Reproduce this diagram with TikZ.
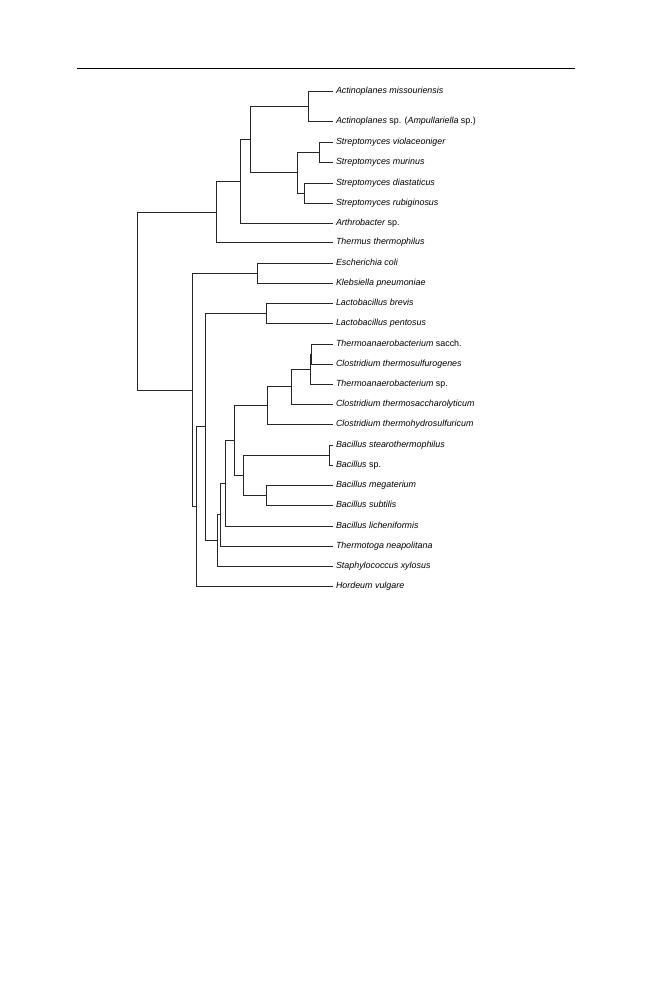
\documentclass[tikz,border=0pt]{standalone}
\usepackage{fontspec}
\setmainfont{Liberation Sans}
\usepackage{tikz}
\tikzset{taxon/.style={anchor=west,inner sep=0pt,outer xsep=3.5pt,text height=6.2pt,text depth=1.8pt,font=\fontsize{8.9}{10}\selectfont\itshape},branch/.style={line width=0.85pt,draw=black!85},rule/.style={line width=0.9pt}}
\begin{document}
\begin{tikzpicture}[x=1pt,y=-1pt]
\useasboundingbox (0,0) rectangle (659,999);
\coordinate (rulel) at (76.7,68.3);
\coordinate (ruler) at (575,68.3);
\draw[rule] (rulel)--(ruler);
\node[taxon] (amis) at (332.5,91.5) {Actinoplanes missouriensis};
\node[taxon] (asp) at (332.5,121) {Actinoplanes \textup{sp. (}Ampullariella \textup{sp.)}};
\node[taxon] (sviol) at (332.5,142) {Streptomyces violaceoniger};
\node[taxon] (smur) at (332.5,162.5) {Streptomyces murinus};
\node[taxon] (sdia) at (332.5,183) {Streptomyces diastaticus};
\node[taxon] (srub) at (332.5,203.5) {Streptomyces rubiginosus};
\node[taxon] (arth) at (332.5,223.5) {Arthrobacter \textup{sp.}};
\node[taxon] (tthe) at (332.5,242.5) {Thermus thermophilus};
\node[taxon] (ecol) at (332.5,263.5) {Escherichia coli};
\node[taxon] (kpne) at (332.5,283.5) {Klebsiella pneumoniae};
\node[taxon] (lbre) at (332.5,303.5) {Lactobacillus brevis};
\node[taxon] (lpen) at (332.5,323.5) {Lactobacillus pentosus};
\node[taxon] (tsac) at (332.5,344) {Thermoanaerobacterium \textup{sacch.}};
\node[taxon] (cths) at (332.5,364) {Clostridium thermosulfurogenes};
\node[taxon] (tsp) at (332.5,384) {Thermoanaerobacterium \textup{sp.}};
\node[taxon] (ctsa) at (332.5,404) {Clostridium thermosaccharolyticum};
\node[taxon] (cthy) at (332.5,424.5) {Clostridium thermohydrosulfuricum};
\node[taxon] (bste) at (332.5,445) {Bacillus stearothermophilus};
\node[taxon] (bsp) at (332.5,465) {Bacillus \textup{sp.}};
\node[taxon] (bmeg) at (332.5,485) {Bacillus megaterium};
\node[taxon] (bsub) at (332.5,505.5) {Bacillus subtilis};
\node[taxon] (blic) at (332.5,526) {Bacillus licheniformis};
\node[taxon] (tnea) at (332.5,546) {Thermotoga neapolitana};
\node[taxon] (sxyl) at (332.5,566) {Staphylococcus xylosus};
\node[taxon] (hvul) at (332.5,586) {Hordeum vulgare};
\coordinate (c1) at (308.3,106.25);
\coordinate (c2) at (319.3,152.25);
\coordinate (c3) at (304.3,193.25);
\coordinate (c4) at (297.7,172.75);
\coordinate (c5) at (250,139.5);
\coordinate (c6) at (240,181.5);
\coordinate (c7) at (216.7,212);
\coordinate (d1) at (257.7,273.5);
\coordinate (d2) at (266.7,313.5);
\coordinate (d3) at (311.7,354);
\coordinate (d4) at (310,369);
\coordinate (d5) at (291,386.5);
\coordinate (d6) at (267.7,405.25);
\coordinate (d7) at (329.3,455);
\coordinate (d8) at (266.7,495.25);
\coordinate (d9) at (243.3,475.1);
\coordinate (d10) at (234.3,440.2);
\coordinate (d11) at (225.7,483.1);
\coordinate (d12) at (220,514.6);
\coordinate (d13) at (217.3,540.3);
\coordinate (d14) at (205,426.9);
\coordinate (d15) at (196.7,506.5);
\coordinate (d16) at (192.3,390);
\coordinate (root) at (137,301);
\draw[branch] (c1) |- (amis.west) (c1) |- (asp.west);
\draw[branch] (c2) |- (sviol.west) (c2) |- (smur.west);
\draw[branch] (c3) |- (sdia.west) (c3) |- (srub.west);
\draw[branch] (c4) |- (c2) (c4) |- (c3);
\draw[branch] (c5) |- (c1) (c5) |- (c4);
\draw[branch] (c6) |- (c5) (c6) |- (arth.west);
\draw[branch] (c7) |- (c6) (c7) |- (tthe.west);
\draw[branch] (d1) |- (ecol.west) (d1) |- (kpne.west);
\draw[branch] (d2) |- (lbre.west) (d2) |- (lpen.west);
\draw[branch] (d3) |- (tsac.west) (d3) |- (cths.west);
\draw[branch] (d4) |- (d3) (d4) |- (tsp.west);
\draw[branch] (d5) |- (d4) (d5) |- (ctsa.west);
\draw[branch] (d6) |- (d5) (d6) |- (cthy.west);
\draw[branch] (d7) |- (bste.west) (d7) |- (bsp.west);
\draw[branch] (d8) |- (bmeg.west) (d8) |- (bsub.west);
\draw[branch] (d9) |- (d7) (d9) |- (d8);
\draw[branch] (d10) |- (d6) (d10) |- (d9);
\draw[branch] (d11) |- (d10) (d11) |- (blic.west);
\draw[branch] (d12) |- (d11) (d12) |- (tnea.west);
\draw[branch] (d13) |- (d12) (d13) |- (sxyl.west);
\draw[branch] (d14) |- (d2) (d14) |- (d13);
\draw[branch] (d15) |- (d14) (d15) |- (hvul.west);
\draw[branch] (d16) |- (d1) (d16) |- (d15);
\draw[branch] (root) |- (c7) (root) |- (d16);
\end{tikzpicture}
\end{document}
